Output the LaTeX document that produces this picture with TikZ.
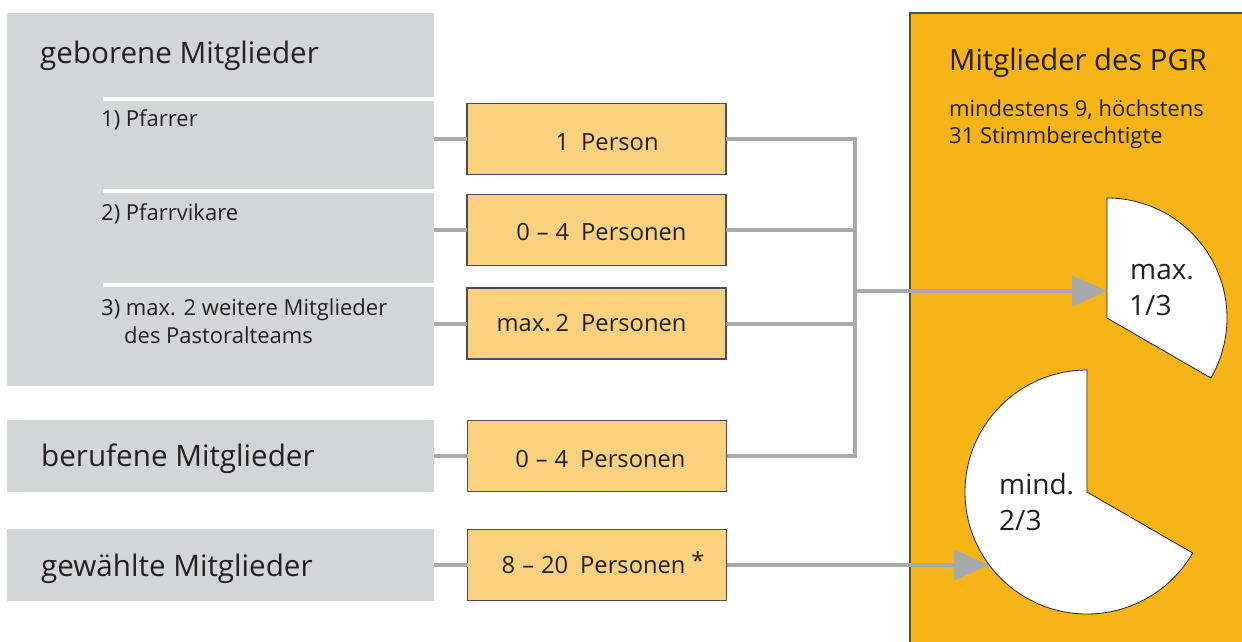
\documentclass[tikz,border=0pt]{standalone}
\usepackage{fontspec}
\setmainfont{Open Sans}
\usetikzlibrary{arrows.meta}

\definecolor{panelgray}{HTML}{D4D5D7}
\definecolor{linegray}{HTML}{A7A9AC}
\definecolor{boxorange}{HTML}{FAD17F}
\definecolor{pgrorange}{HTML}{F6B418}
\definecolor{ink}{HTML}{231F20}
\definecolor{rimgray}{HTML}{4D4D4F}

\tikzset{
  panel/.style={fill=panelgray, inner sep=0pt, outer sep=0pt, anchor=north west},
  countbox/.style={fill=boxorange, draw=rimgray, line width=1.2pt, inner sep=0pt, outer sep=0pt,
    minimum width=259pt, minimum height=71pt},
  bigtxt/.style={anchor=base west, inner sep=0pt, text=ink, font=\fontsize{29.6}{34}\selectfont},
  subtxt/.style={anchor=base west, inner sep=0pt, text=ink, font=\fontsize{22}{26}\selectfont},
  counttxt/.style={anchor=base west, inner sep=0pt, text=ink, font=\fontsize{23.7}{28}\selectfont},
  pietxt/.style={anchor=base west, inner sep=0pt, text=ink, font=\fontsize{28}{32}\selectfont},
  conn/.style={draw=linegray, line width=4pt},
  arrowconn/.style={conn, -{Triangle[length=35pt, width=30pt]}},
  slice/.style={fill=white, draw=ink, line width=0.8pt, line join=miter},
}

\begin{document}
\begin{tikzpicture}[x=1pt, y=-1pt]
  \useasboundingbox (0,0) rectangle (1242,641);

  % council panel on the right
  \fill[pgrorange] (910,13) rectangle (1243,642);
  \draw[rimgray, line width=1.2pt] (910,642) -- (910,13) -- (1243,13);
  \node[bigtxt, font=\fontsize{29.2}{34}\selectfont] (pgr) at (949,70) {Mitglieder des PGR};
  \node[subtxt] (pgr1) at (949,116) {mindestens 9, höchstens};
  \node[subtxt] (pgr2) at (949,143) {31 Stimmberechtigte};

  % member groups on the left
  \node[panel, minimum width=427pt, minimum height=373pt] (geb) at (7,13) {};
  \fill[white] (103,97) rectangle (434,101);
  \fill[white] (103,189) rectangle (434,193);
  \fill[white] (103,283) rectangle (434,287);
  \node[bigtxt] (gebt) at (40,63) {geborene Mitglieder};
  \node[subtxt] (s1) at (101,126) {1) Pfarrer};
  \node[subtxt] (s2) at (101,220) {2) Pfarrvikare};
  \node[subtxt] (s3) at (101,315) {3) max. 2 weitere Mitglieder};
  \node[subtxt] (s3b) at (124,343) {des Pastoralteams};

  \node[panel, minimum width=427pt, minimum height=72pt] (ber) at (7,420) {};
  \node[bigtxt] (bert) at (41,466) {berufene Mitglieder};
  \node[panel, minimum width=427pt, minimum height=72pt] (gew) at (7,529) {};
  \node[bigtxt] (gewt) at (41,576) {gewählte Mitglieder};

  % head counts
  \node[countbox] (b1) at (596.5,139) {};
  \node[countbox] (b2) at (596.5,230) {};
  \node[countbox] (b3) at (596.5,323.5) {};
  \node[countbox] (b4) at (597,456) {};
  \node[countbox] (b5) at (597,565) {};

  \node[counttxt] (c1) at (581,150) {\llap{1\hspace{12pt}}Person};
  \node[counttxt] (c2) at (581,240) {\llap{0\hspace{7pt}–\hspace{7pt}4\hspace{12pt}}Personen};
  \node[counttxt] (c3) at (581,331) {\llap{max.\hspace{5pt}2\hspace{12pt}}Personen};
  \node[counttxt] (c4) at (580,467) {\llap{0\hspace{7pt}–\hspace{7pt}4\hspace{12pt}}Personen};
  \node[counttxt] (c5) at (580,573) {\llap{8\hspace{7pt}–\hspace{7pt}20\hspace{12pt}}Personen\hspace{6pt}\raisebox{4pt}{*}};

  % links from groups to counts
  \foreach \b in {b1,b2,b3} \draw[conn] (\b.west -| geb.east) -- (\b.west);
  \draw[conn] (b4.west -| ber.east) -- (b4.west);
  \draw[conn] (b5.west -| gew.east) -- (b5.west);

  % pie slices
  \coordinate (p1c) at (1107,318);
  \coordinate (p2c) at (1087,492);
  \draw[slice] (p1c) -- ++(0,-120) arc[start angle=-90, end angle=30, radius=120] -- cycle;
  \draw[slice] (p2c) -- ++(0,-122) arc[start angle=-90, end angle=-330, radius=122] -- cycle;
  \node[pietxt] (m1) at (1130,279) {max.};
  \node[pietxt] (m2) at (1129,315) {1/3};
  \node[pietxt] (n1) at (999,494) {mind.};
  \node[pietxt] (n2) at (999,530) {2/3};

  % collecting bus and arrows
  \coordinate (bus) at (855,291);
  \coordinate (p1hit) at (1107,291);
  \coordinate (p2hit) at (989,565);
  \draw[conn, line join=miter] (b1.east) -| (bus |- b4.east) -- (b4.east);
  \draw[conn] (b2.east) -- (b2.east -| bus);
  \draw[conn] (b3.east) -- (b3.east -| bus);
  \draw[arrowconn] (bus) -- (p1hit);
  \draw[arrowconn] (b5.east) -- (p2hit);
\end{tikzpicture}
\end{document}
